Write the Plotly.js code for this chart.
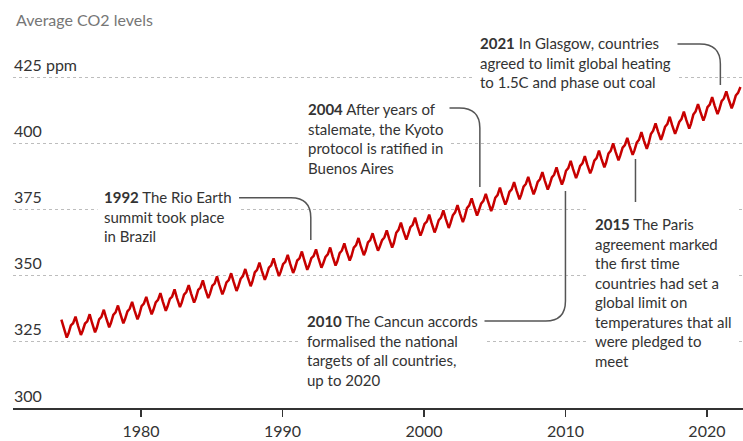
<!DOCTYPE html>
<html>
<head>
<meta charset="utf-8">
<script src="https://cdn.plot.ly/plotly-3.0.1.min.js"></script>
<style>html,body{margin:0;padding:0;background:#fff;}#chart{width:743px;height:441px;}</style>
</head>
<body>
<div id="chart"></div>
<script>
// Years covered (index 0 = 1974 ... index 48 = 2022)
const years = [1974,1975,1976,1977,1978,1979,1980,1981,1982,1983,1984,1985,1986,1987,1988,1989,1990,1991,1992,1993,1994,1995,1996,1997,1998,1999,2000,2001,2002,2003,2004,2005,2006,2007,2008,2009,2010,2011,2012,2013,2014,2015,2016,2017,2018,2019,2020,2021,2022];
// Sampling points within each year (fraction of year): mid-Jan, mid-Mar, mid-May, mid-Jul, end-Sep, mid-Nov
const sampleFrac = [0.04, 0.20, 0.37, 0.54, 0.75, 0.87];
// CO2 (ppm), per sampling month
const janCO2 = [null,331.2,331.9,333.5,335.2,336.5,338.5,339.9,341.2,342.8,344.6,346.2,347.4,348.8,351.2,353.0,354.3,355.7,356.6,357.1,358.5,360.6,362.5,363.4,366.2,368.3,369.5,370.9,372.8,375.5,377.2,379.4,381.6,383.6,385.4,387.1,389.6,391.4,393.4,396.1,398.3,400.2,403.5,406.2,408.0,410.8,413.6,415.9,418.0];
const marCO2 = [null,332.0,332.7,334.4,336.1,337.5,339.4,340.8,342.1,343.8,345.5,347.0,348.3,349.8,352.2,353.9,355.2,356.5,357.4,358.0,359.5,361.5,363.4,364.4,367.3,369.2,370.4,371.9,373.9,376.5,378.2,380.4,382.6,384.6,386.4,388.1,390.6,392.4,394.4,397.1,399.3,401.3,404.7,407.2,409.1,412.0,414.6,416.9,419.0];
const mayCO2 = [333.4,334.5,335.4,337.1,338.7,340.1,342.0,343.4,344.8,346.4,348.2,349.7,350.9,352.5,354.9,356.5,357.8,359.1,359.9,360.6,362.2,364.2,366.0,367.1,370.0,371.9,373.0,374.6,376.6,379.2,380.9,383.2,385.3,387.3,389.1,390.9,393.3,395.1,397.2,399.9,402.0,404.2,407.5,410.0,411.9,414.8,417.4,419.6,421.2];
const julCO2 = [330.2,331.2,332.1,333.9,335.5,336.9,338.8,340.2,341.5,343.2,344.9,346.4,347.7,349.4,351.8,353.3,354.5,355.8,356.6,357.3,359.0,361.0,362.8,364.0,366.9,368.6,369.8,371.4,373.5,376.1,377.8,380.1,382.2,384.1,385.9,387.7,390.2,391.9,394.2,396.8,398.9,401.1,404.5,406.8,408.8,411.8,414.3,416.5,null];
const sepCO2 = [326.6,327.6,328.6,330.5,332.0,333.5,335.4,336.7,338.1,339.8,341.5,342.9,344.2,346.0,348.4,349.8,351.0,352.2,353.0,353.8,355.7,357.7,359.4,360.6,363.6,365.1,366.3,368.0,370.2,372.7,374.4,376.8,378.8,380.7,382.5,384.4,386.8,388.6,390.9,393.5,395.6,397.9,401.3,403.5,405.5,408.5,411.0,413.2,null];
const novCO2 = [328.1,329.1,330.2,332.1,333.6,335.1,337.0,338.3,339.7,341.4,343.1,344.5,345.8,347.7,350.1,351.4,352.6,353.7,354.5,355.3,357.3,359.3,360.9,362.3,365.4,366.7,367.9,369.7,372.0,374.4,376.1,378.4,380.5,382.4,384.1,386.1,388.5,390.2,392.6,395.3,397.2,399.7,403.1,405.2,407.3,410.3,412.7,414.9,null];

// Axis ticks
const xTickVals = [1980,1990,2000,2010,2020];
const xTickText = ['1980','1990','2000','2010','2020'];
const yTickVals = [300,325,350,375,400,425];
const yTickText = ['300','325','350','375','400','425 ppm'];

// Event annotations
const eventYears = [1992, 2004, 2010, 2015, 2021];
const eventTexts = [
  '<b>1992</b> The Rio Earth<br>summit took place<br>in Brazil',
  '<b>2004</b> After years of<br>stalemate, the Kyoto<br>protocol is ratified in<br>Buenos Aires',
  '<b>2010</b> The Cancun accords<br>formalised the national<br>targets of all countries,<br>up to 2020',
  '<b>2015</b> The Paris<br>agreement marked<br>the first time<br>countries had set a<br>global limit on<br>temperatures that all<br>were pledged to<br>meet',
  '<b>2021</b> In Glasgow, countries<br>agreed to limit global heating<br>to 1.5C and phase out coal'
];

// Build series
const series = [janCO2, marCO2, mayCO2, julCO2, sepCO2, novCO2];
const xs = [], ys = [];
years.forEach((yr, i) => {
  series.forEach((arr, k) => {
    if (arr[i] !== null) { xs.push(yr + sampleFrac[k]); ys.push(arr[i]); }
  });
});

const FONT = 'Lato, "Open Sans", sans-serif';
const TXT = '#333333';

// annotation box positions (top-left corner in data units)
const boxPos = [
  [1976.89, 385.6],
  [1991.31, 418.9],
  [1991.24, 338.8],
  [2011.59, 375.4],
  [2003.46, 443.8]
];

const annotations = eventTexts.map((t, i) => ({
  xref: 'x', yref: 'y', x: boxPos[i][0], y: boxPos[i][1],
  xanchor: 'left', yanchor: 'top', align: 'left',
  text: t, showarrow: false,
  font: {family: FONT, size: 15, color: TXT},
  bgcolor: '#ffffff', borderpad: 6
}));

const lineStyle = {color: '#555555', width: 1.5};
const shapes = [
  // 1992
  {type:'path', xref:'x', yref:'y', line: lineStyle,
   path:'M 1986.93,379.42 L 1990.60,379.42 Q 1992.0,379.42 1992.0,371.87 L 1992.0,363.44'},
  // 2004
  {type:'path', xref:'x', yref:'y', line: lineStyle,
   path:'M 2001.41,413.29 L 2002.5,413.29 Q 2003.95,413.29 2003.95,405.74 L 2003.95,383.46'},
  // 2010
  {type:'path', xref:'x', yref:'y', line: lineStyle,
   path:'M 2010.0,381.95 L 2010.0,340.4 Q 2010.0,332.86 2008.6,332.86 L 2004.24,332.86'},
  // 2015
  {type:'path', xref:'x', yref:'y', line: lineStyle,
   path:'M 2014.95,394.03 L 2014.95,377.8'},
  // 2021
  {type:'path', xref:'x', yref:'y', line: lineStyle,
   path:'M 2016.96,437.46 L 2019.5,437.46 Q 2020.95,437.46 2020.95,429.9 L 2020.95,421.98'}
];

const trace = {
  x: xs, y: ys, type: 'scatter', mode: 'lines',
  line: {color: '#c70000', width: 2.5, shape: 'linear'},
  hoverinfo: 'skip'
};

const layout = {
  width: 743, height: 441,
  margin: {l: 13, r: 0, t: 0, b: 33, pad: 0},
  paper_bgcolor: '#ffffff', plot_bgcolor: '#ffffff',
  showlegend: false,
  title: {
    text: 'Average CO2 levels',
    font: {family: FONT, size: 16, color: '#767676'},
    xref: 'container', yref: 'container',
    x: 16/743, xanchor: 'left', y: 1 - 20/441, yanchor: 'middle'
  },
  xaxis: {
    range: [1970.95, 2022.55],
    tickvals: xTickVals, ticktext: xTickText,
    ticks: 'outside', ticklen: 7, tickwidth: 1.5, tickcolor: '#333333',
    showline: true, linecolor: '#333333', linewidth: 2,
    showgrid: false, zeroline: false,
    tickfont: {family: FONT, size: 16, color: TXT},
    ticklabelstandoff: 1,
    automargin: false
  },
  yaxis: {
    range: [300, 454.08],
    tickvals: yTickVals, ticktext: yTickText,
    ticks: '', showline: false, zeroline: false,
    showgrid: true, gridcolor: '#bdbdbd', griddash: 'dot', gridwidth: 1,
    ticklabelposition: 'inside', ticklabelshift: -12, ticklabelstandoff: -2,
    tickfont: {family: FONT, size: 16, color: TXT},
    automargin: false
  },
  annotations: annotations,
  shapes: shapes
};

Plotly.newPlot('chart', [trace], layout, {staticPlot: true, displayModeBar: false});
</script>
</body>
</html>
